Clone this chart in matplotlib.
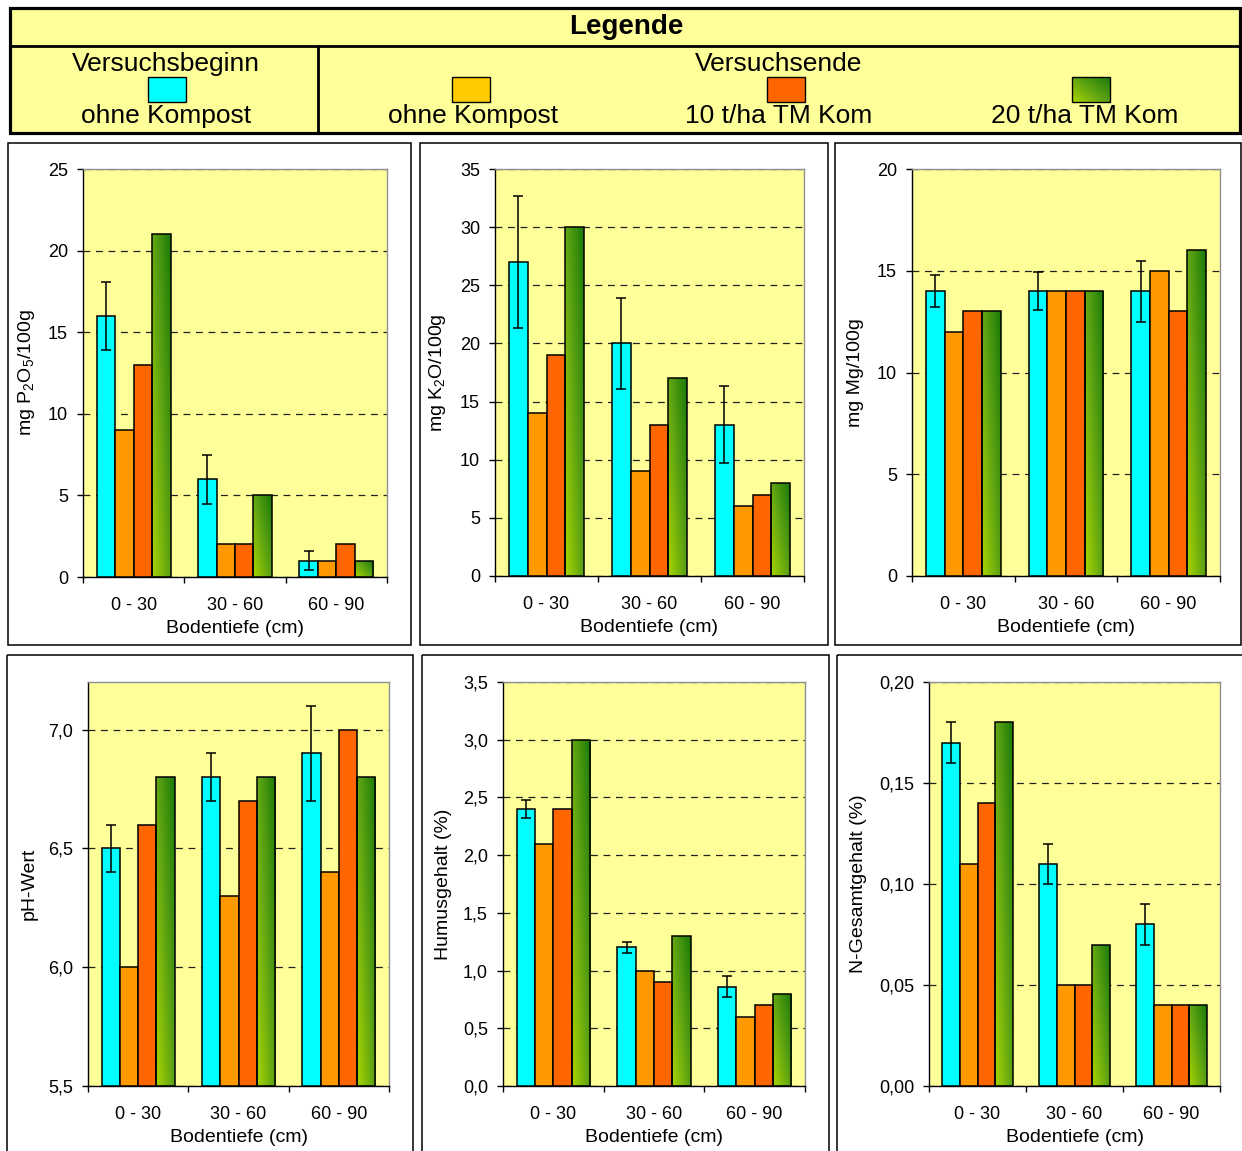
import numpy as np
import matplotlib
matplotlib.use('Agg')
import matplotlib.pyplot as plt
from matplotlib.patches import Rectangle
from matplotlib.ticker import FuncFormatter
from matplotlib.colors import LinearSegmentedColormap

plt.rcParams['font.family'] = ['Liberation Sans', 'DejaVu Sans']
plt.rcParams['mathtext.fontset'] = 'custom'
plt.rcParams['mathtext.rm'] = 'Liberation Sans'
plt.rcParams['mathtext.it'] = 'Liberation Sans:italic'
plt.rcParams['mathtext.bf'] = 'Liberation Sans:bold'

# ---------------- data ----------------
categories = ['0 - 30', '30 - 60', '60 - 90']
legend_labels = ['ohne Kompost', 'ohne Kompost', '10 t/ha TM Kom', '20 t/ha TM Kom']

p2o5_start = [16, 6, 1]
p2o5_err = [2.1, 1.5, 0.6]
p2o5_ohne = [9, 2, 1]
p2o5_10 = [13, 2, 2]
p2o5_20 = [21, 5, 1]

k2o_start = [27, 20, 13]
k2o_err = [5.7, 3.9, 3.3]
k2o_ohne = [14, 9, 6]
k2o_10 = [19, 13, 7]
k2o_20 = [30, 17, 8]

mg_start = [14, 14, 14]
mg_err = [0.8, 0.95, 1.5]
mg_ohne = [12, 14, 15]
mg_10 = [13, 14, 13]
mg_20 = [13, 14, 16]

ph_start = [6.5, 6.8, 6.9]
ph_err = [0.1, 0.1, 0.2]
ph_ohne = [6.0, 6.3, 6.4]
ph_10 = [6.6, 6.7, 7.0]
ph_20 = [6.8, 6.8, 6.8]

humus_start = [2.4, 1.2, 0.86]
humus_err = [0.08, 0.05, 0.09]
humus_ohne = [2.1, 1.0, 0.6]
humus_10 = [2.4, 0.9, 0.7]
humus_20 = [3.0, 1.3, 0.8]

n_start = [0.17, 0.11, 0.08]
n_err = [0.01, 0.01, 0.01]
n_ohne = [0.11, 0.05, 0.04]
n_10 = [0.14, 0.05, 0.04]
n_20 = [0.18, 0.07, 0.04]

# ---------------- style ----------------
W, H = 1242, 1151
DPI = 100
C_CYAN = '#00FFFF'
C_ORANGE = '#FF9900'
C_RED = '#FF6600'
C_LEG_ORANGE = '#FFCC00'
PLOT_BG = '#FFFF99'
gcmap = LinearSegmentedColormap.from_list('gr', ['#A8D400', '#5FA412', '#1A7A08'])
gx, gy = np.meshgrid(np.linspace(0, 1, 64), np.linspace(0, 1, 64))
GRAD = 0.55 * gx + 0.45 * gy

fig = plt.figure(figsize=(W / DPI, H / DPI), dpi=DPI, facecolor='white')

# overlay axes in pixel coordinates for legend and panel frames
ov = fig.add_axes([0, 0, 1, 1])
ov.set_xlim(0, W)
ov.set_ylim(H, 0)
ov.axis('off')


def fig_rect(l, t, r, b):
    return [l / W, 1 - b / H, (r - l) / W, (b - t) / H]


# ---- legend block ----
ov.add_patch(Rectangle((10, 8), 1230, 125, facecolor=PLOT_BG, edgecolor='black', lw=2.3, zorder=1))
ov.plot([10, 1240], [46, 46], color='black', lw=2.0, zorder=2)
ov.plot([318, 318], [46, 133], color='black', lw=2.0, zorder=2)
ov.text(626, 34, 'Legende', ha='center', va='baseline', fontsize=20, fontweight='bold', zorder=3)
ov.text(166, 71, 'Versuchsbeginn', ha='center', va='baseline', fontsize=19, zorder=3)
ov.text(779, 71, 'Versuchsende', ha='center', va='baseline', fontsize=19, zorder=3)
leg_x = [167, 471, 786, 1091]
leg_cols = [C_CYAN, C_LEG_ORANGE, C_RED, None]
for cx, col, lab in zip(leg_x, leg_cols, legend_labels):
    pw, ph = 38, 25
    x0, y0 = cx - pw / 2, 77
    if col is None:
        rect = Rectangle((x0, y0), pw, ph, facecolor='none', edgecolor='black', lw=1.0, zorder=4)
        ov.add_patch(rect)
        im = ov.imshow(GRAD, extent=(x0, x0 + pw, y0 + ph, y0), origin='lower', cmap=gcmap,
                       aspect='auto', zorder=3, interpolation='bilinear')
        im.set_clip_path(rect)
    else:
        ov.add_patch(Rectangle((x0, y0), pw, ph, facecolor=col, edgecolor='black', lw=1.0, zorder=3))
leg_text_x = [166, 473, 779, 1085]
for tx, lab in zip(leg_text_x, legend_labels):
    ov.text(tx, 123, lab, ha='center', va='baseline', fontsize=19, zorder=3)

# ---- panel frames ----
frames = [(8, 143, 411, 645), (420, 143, 828, 645), (835, 143, 1241, 645),
          (7, 655, 413, 1165), (422, 655, 829, 1165), (837, 655, 1245, 1165)]
for l, t, r, b in frames:
    ov.add_patch(Rectangle((l, t), r - l, b - t, facecolor='none', edgecolor='black', lw=1.1, zorder=1))
ov.set_xlim(0, W)
ov.set_ylim(H, 0)


def panel(px, ylabel, lo, hi, step, dec, start, err, ohne, k10, k20, ylab_right):
    l, t, r, b = px
    ax = fig.add_axes(fig_rect(l, t, r, b))
    ax.set_facecolor(PLOT_BG)
    n = len(categories)
    xc = np.arange(n) + 0.5
    w = 1 / 5.5
    offs = (np.arange(4) - 1.5) * w
    base = lo
    series = [start, ohne, k10, k20]
    cols = [C_CYAN, C_ORANGE, C_RED, None]
    for j, (vals, col) in enumerate(zip(series, cols)):
        hts = np.asarray(vals, dtype=float) - base
        if col is None:
            bars = ax.bar(xc + offs[j], hts, w, bottom=base, facecolor='none', edgecolor='black',
                          lw=1.1, zorder=3)
            for p in bars.patches:
                x0, y0 = p.get_x(), p.get_y()
                im = ax.imshow(GRAD, extent=(x0, x0 + p.get_width(), y0, y0 + p.get_height()),
                               origin='lower', cmap=gcmap, aspect='auto', zorder=2,
                               interpolation='bilinear')
                im.set_clip_path(p)
        else:
            ax.bar(xc + offs[j], hts, w, bottom=base, color=col, edgecolor='black', lw=1.1, zorder=3)
    ax.errorbar(xc + offs[0], start, yerr=err, fmt='none', ecolor='black', elinewidth=1.1,
                capsize=3.8, capthick=1.1, zorder=5)
    ax.set_xlim(0, n)
    ax.set_ylim(lo, hi)
    ax.set_aspect('auto')
    ticks = np.arange(lo, hi + 1e-9, step)
    ax.set_yticks(ticks)
    ax.yaxis.set_major_formatter(FuncFormatter(lambda v, p: f'{v:.{dec}f}'.replace('.', ',')))
    ax.set_xticks(np.arange(n + 1))
    ax.set_xticks(xc, minor=True)
    ax.set_xticklabels(categories, minor=True)
    ax.tick_params(axis='x', which='major', labelbottom=False, length=4.3, width=1.0, direction='out')
    ax.tick_params(axis='x', which='minor', length=0, pad=14.4, labelsize=13)
    ax.tick_params(axis='y', length=4.3, width=1.0, direction='out', pad=6.5, labelsize=13)
    ax.set_axisbelow(True)
    ax.yaxis.grid(True, linestyle=(0, (5.5, 4.5)), color='#222222', linewidth=0.9)
    for s in ['top', 'right']:
        ax.spines[s].set_color('#909090')
        ax.spines[s].set_linewidth(1.0)
    for s in ['left', 'bottom']:
        ax.spines[s].set_color('black')
        ax.spines[s].set_linewidth(1.0)
    ax.set_ylabel(ylabel, fontsize=14)
    ax.yaxis.set_label_coords((ylab_right - l) / (r - l), 0.5)
    ax.set_xlabel('Bodentiefe (cm)', fontsize=14)
    ax.xaxis.label.set_va('baseline')
    ax.xaxis.set_label_coords(0.5, (b - (b + 56)) / (b - t))
    return ax


panel((83, 169, 387, 577), r'mg P$_\mathregular{2}$O$_\mathregular{5}$/100g', 0, 25, 5, 0,
      p2o5_start, p2o5_err, p2o5_ohne, p2o5_10, p2o5_20, 37)
panel((495, 169, 804, 576), r'mg K$_\mathregular{2}$O/100g', 0, 35, 5, 0,
      k2o_start, k2o_err, k2o_ohne, k2o_10, k2o_20, 448)
panel((912, 169, 1220, 576), 'mg Mg/100g', 0, 20, 5, 0,
      mg_start, mg_err, mg_ohne, mg_10, mg_20, 864)
panel((88, 682, 389, 1086), 'pH-Wert', 5.5, 7.2, 0.5, 1,
      ph_start, ph_err, ph_ohne, ph_10, ph_20, 38)
panel((503, 682, 805, 1086), 'Humusgehalt (%)', 0, 3.5, 0.5, 1,
      humus_start, humus_err, humus_ohne, humus_10, humus_20, 452)
panel((929, 682, 1220, 1086), 'N-Gesamtgehalt (%)', 0, 0.20, 0.05, 2,
      n_start, n_err, n_ohne, n_10, n_20, 867)

fig.savefig('out.png', dpi=DPI, facecolor='white')
